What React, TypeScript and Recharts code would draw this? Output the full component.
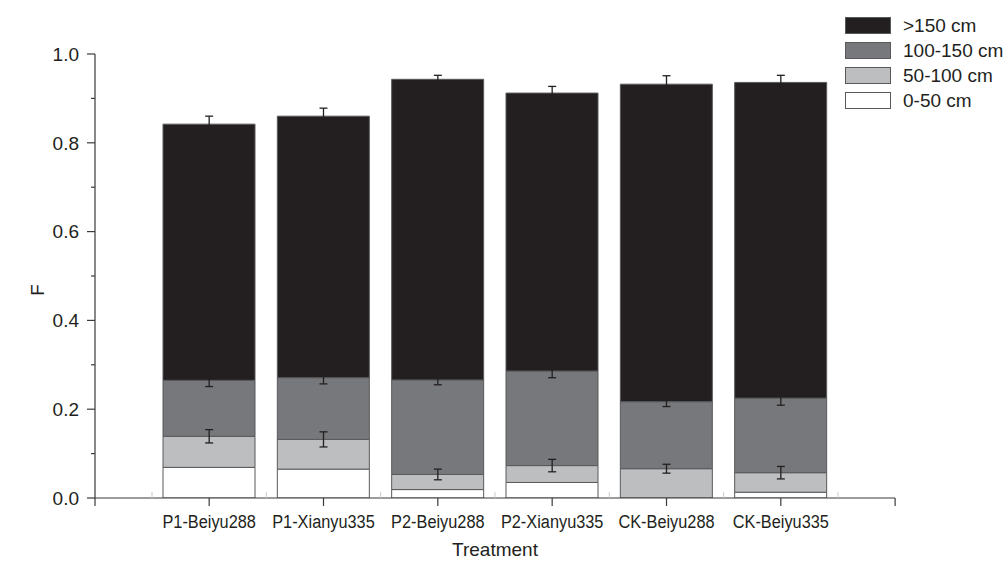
import React from 'react';
import { ComposedChart, Bar, Scatter, ErrorBar, XAxis, YAxis, Legend, Label } from 'recharts';

const categories = ['P1-Beiyu288', 'P1-Xianyu335', 'P2-Beiyu288', 'P2-Xianyu335', 'CK-Beiyu288', 'CK-Beiyu335'];

// stacked segments, bottom to top
const seg0to50 = [0.069, 0.065, 0.019, 0.035, 0, 0.013];
const seg50to100 = [0.07, 0.067, 0.034, 0.038, 0.066, 0.044];
const seg100to150 = [0.126, 0.139, 0.213, 0.213, 0.151, 0.168];
const segOver150 = [0.577, 0.589, 0.677, 0.626, 0.715, 0.711];

// error bars at the top of each segment
const err50to100 = [0.015, 0.017, 0.012, 0.014, 0.01, 0.014];
const err100to150 = [0.014, 0.014, 0.011, 0.015, 0.011, 0.016];
const errOver150 = [0.018, 0.018, 0.009, 0.015, 0.019, 0.016];

const yTicks = [0, 0.1, 0.2, 0.3, 0.4, 0.5, 0.6, 0.7, 0.8, 0.9, 1.0];

const series = [
    { key: 's0', name: '0-50 cm', fill: '#ffffff' },
    { key: 's1', name: '50-100 cm', fill: '#bcbec0' },
    { key: 's2', name: '100-150 cm', fill: '#77787b' },
    { key: 's3', name: '>150 cm', fill: '#231f20' },
];

const data = categories.map((name, i) => {
    const c1 = seg0to50[i] + seg50to100[i];
    const c2 = c1 + seg100to150[i];
    const c3 = c2 + segOver150[i];
    return {
        name,
        s0: seg0to50[i],
        s1: seg50to100[i],
        s2: seg100to150[i],
        s3: segOver150[i],
        c1,
        c2,
        c3,
        e1: err50to100[i],
        e2: err100to150[i],
        e3: errOver150[i],
    };
});

const ink = '#231f20';
const axisColor = '#3a3a3c';
const font = "'Liberation Sans', Arial, sans-serif";
const HALF_BAND = 57.14;

const YTick = (props: any) => {
    const { x, y, payload } = props;
    const v = payload.value;
    const major = Math.round(v * 10) % 2 === 0;
    return (
        <g>
            <line x1={x} x2={x - (major ? 8 : 4)} y1={y} y2={y} stroke={axisColor} strokeWidth={1.2} />
            {v === 0 && <line x1={x} x2={x} y1={y} y2={y + 8} stroke={axisColor} strokeWidth={1.2} />}
            {major && (
                <text x={x - 16} y={y} dy="0.36em" textAnchor="end" fill={ink} fontSize={19} fontFamily={font}>
                    {v.toFixed(1)}
                </text>
            )}
        </g>
    );
};

const XTick = (props: any) => {
    const { x, y, payload, index } = props;
    const last = categories.length - 1;
    return (
        <g>
            <line x1={x} x2={x} y1={y} y2={y + 8} stroke={axisColor} strokeWidth={1.2} />
            <line x1={x + HALF_BAND} x2={x + HALF_BAND} y1={y} y2={y - 6} stroke="#c8c8c8" strokeWidth={1} />
            {index === 0 && (
                <line x1={x - HALF_BAND} x2={x - HALF_BAND} y1={y} y2={y - 6} stroke="#c8c8c8" strokeWidth={1} />
            )}
            {index === last && (
                <line x1={x + 2 * HALF_BAND} x2={x + 2 * HALF_BAND} y1={y} y2={y + 8} stroke={axisColor} strokeWidth={1.2} />
            )}
            {/* condensed look of the original labels */}
            <g transform={`translate(${x}, ${y + 30}) scale(0.86, 1)`}>
                <text x={0} y={0} textAnchor="middle" fill={ink} fontSize={19} fontFamily={font}>
                    {payload.value}
                </text>
            </g>
        </g>
    );
};

const YTitle = (props: any) => {
    const { viewBox } = props;
    const cx = 37;
    const cy = viewBox.y + viewBox.height / 2 + 14;
    return (
        <text
            transform={`translate(${cx}, ${cy}) rotate(-90)`}
            textAnchor="middle"
            dy="0.36em"
            fill={ink}
            fontSize={19}
            fontFamily={font}
        >
            F
        </text>
    );
};

const LegendBox = () => (
    <div style={{ fontFamily: font, fontSize: 19, color: ink }}>
        {[...series].reverse().map((s) => (
            <div key={s.key} style={{ display: 'flex', alignItems: 'center', height: 25 }}>
                <div
                    style={{
                        width: 44,
                        height: 15,
                        background: s.fill,
                        border: '1px solid #58595b',
                    }}
                />
                <span style={{ marginLeft: 12, whiteSpace: 'nowrap' }}>{s.name}</span>
            </div>
        ))}
    </div>
);

const noDot = () => <g />;

export default function App() {
    return (
        <div>
            <style>{'body{margin:0}'}</style>
            <ComposedChart
                width={1005}
                height={566}
                data={data}
                margin={{ top: 54, right: 110, left: 0, bottom: 0 }}
                barCategoryGap={22}
            >
                <XAxis
                    dataKey="name"
                    padding={{ left: 57, right: 57 }}
                    interval={0}
                    height={68}
                    tickLine={false}
                    tickSize={0}
                    tickMargin={0}
                    axisLine={{ stroke: axisColor, strokeWidth: 1.2 }}
                    tick={<XTick />}
                >
                    <Label
                        value="Treatment"
                        position="insideBottom"
                        offset={10}
                        fill={ink}
                        fontSize={19}
                        fontFamily={font}
                    />
                </XAxis>
                <YAxis
                    domain={[0, 1]}
                    ticks={yTicks}
                    width={95}
                    tickLine={false}
                    tickSize={0}
                    tickMargin={0}
                    axisLine={{ stroke: axisColor, strokeWidth: 1.2 }}
                    tick={<YTick />}
                    allowDataOverflow
                >
                    <Label content={<YTitle />} />
                </YAxis>
                <Legend
                    layout="vertical"
                    align="center"
                    verticalAlign="middle"
                    wrapperStyle={{ left: 845, top: 13, width: 160 }}
                    content={<LegendBox />}
                />
                {series.map((s) => (
                    <Bar
                        key={s.key}
                        dataKey={s.key}
                        name={s.name}
                        stackId="f"
                        fill={s.fill}
                        stroke="#58595b"
                        strokeWidth={1}
                        barSize={92}
                        isAnimationActive={false}
                    />
                ))}
                {[
                    ['c1', 'e1'],
                    ['c2', 'e2'],
                    ['c3', 'e3'],
                ].map(([c, e]) => (
                    <Scatter key={c} dataKey={c} shape={noDot} legendType="none" isAnimationActive={false}>
                        <ErrorBar dataKey={e} direction="y" width={4} stroke={ink} strokeWidth={1.3} />
                    </Scatter>
                ))}
            </ComposedChart>
        </div>
    );
}
